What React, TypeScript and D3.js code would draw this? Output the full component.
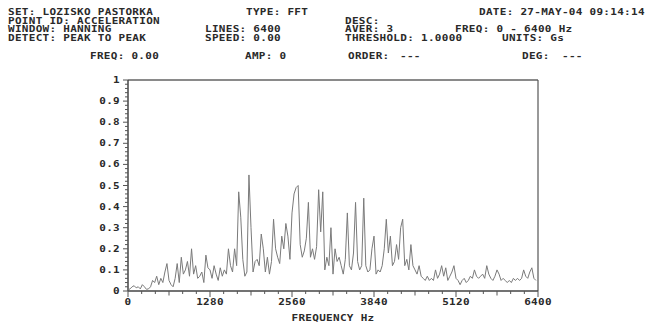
import React from 'react';
import * as d3 from 'd3';

const W = 650;
const H = 325;

// spectrum amplitude (Gs), one value every 32 Hz starting at 0 Hz
const FREQ_STEP = 32;
const amplitudes = [
  0.005, 0.01, 0.02, 0.025, 0.015, 0.02, 0.01, 0.03, 0.02, 0.008,
  0.01, 0.02, 0.05, 0.04, 0.07, 0.03, 0.06, 0.04, 0.09, 0.13,
  0.05, 0.03, 0.02, 0.06, 0.13, 0.04, 0.16, 0.08, 0.1, 0.14,
  0.07, 0.2, 0.08, 0.12, 0.06, 0.07, 0.09, 0.04, 0.17, 0.11,
  0.1, 0.06, 0.12, 0.08, 0.05, 0.11, 0.07, 0.1, 0.08, 0.2,
  0.12, 0.09, 0.2, 0.12, 0.47, 0.35, 0.15, 0.07, 0.09, 0.55,
  0.3, 0.09, 0.14, 0.15, 0.12, 0.27, 0.2, 0.09, 0.16, 0.08,
  0.14, 0.34, 0.2, 0.16, 0.13, 0.26, 0.2, 0.32, 0.26, 0.15,
  0.37, 0.46, 0.49, 0.5, 0.22, 0.16, 0.19, 0.25, 0.42, 0.16,
  0.2, 0.15, 0.21, 0.48, 0.28, 0.47, 0.1, 0.16, 0.12, 0.3,
  0.08, 0.2, 0.14, 0.16, 0.12, 0.08, 0.15, 0.37, 0.12, 0.1,
  0.18, 0.42, 0.14, 0.1, 0.12, 0.44, 0.12, 0.09, 0.1, 0.2,
  0.26, 0.08, 0.1, 0.09, 0.12, 0.2, 0.34, 0.18, 0.26, 0.12,
  0.14, 0.22, 0.15, 0.3, 0.34, 0.12, 0.15, 0.1, 0.22, 0.12,
  0.1, 0.08, 0.12, 0.07, 0.06, 0.05, 0.07, 0.05, 0.06, 0.05,
  0.1, 0.06, 0.08, 0.12, 0.07, 0.11, 0.05, 0.07, 0.09, 0.12,
  0.06, 0.05, 0.03, 0.05, 0.06, 0.04, 0.05, 0.07, 0.06, 0.1,
  0.07, 0.06, 0.07, 0.08, 0.06, 0.12, 0.08, 0.06, 0.05, 0.07,
  0.1, 0.08, 0.05, 0.06, 0.05, 0.04, 0.05, 0.04, 0.06, 0.05,
  0.06, 0.05, 0.06, 0.1, 0.07, 0.06, 0.09, 0.11, 0.06, 0.05,
];

const xTicks = [0, 1280, 2560, 3840, 5120, 6400];
const yTicks = [0, 0.1, 0.2, 0.3, 0.4, 0.5, 0.6, 0.7, 0.8, 0.9, 1];
const yTickLabels = ['0', '0.1', '0.2', '0.3', '0.4', '0.5', '0.6', '0.7', '0.8', '0.9', '1'];
const xTitle = 'FREQUENCY Hz';

// header block: [text, x] per row
const headerRows: [string, number][][] = [
  [['SET: LOZISKO PASTORKA', 8], ['TYPE: FFT', 246], ['DATE: 27-MAY-04 09:14:14', 479]],
  [['POINT ID: ACCELERATION', 8], ['DESC:', 345]],
  [['WINDOW: HANNING', 8], ['LINES: 6400', 205], ['AVER: 3', 345], ['FREQ: 0 - 6400 Hz', 455]],
  [['DETECT: PEAK TO PEAK', 8], ['SPEED: 0.00', 205], ['THRESHOLD: 1.0000', 345], ['UNITS: Gs', 502]],
];
const cursorRow: [string, number][] = [
  ['FREQ: 0.00', 90], ['AMP: 0', 245], ['ORDER:', 348], ['---', 400], ['DEG:', 522], ['---', 562],
];

const FONT = '"DejaVu Sans Mono", monospace';
const INK = '#2a2a2a';

// squat, wide glyphs like the instrument's bitmap font
function Label({ x, y, anchor = 'start', children }: { x: number; y: number; anchor?: string; children: React.ReactNode }) {
  return (
    <text
      transform={`translate(${x},${y}) scale(1,0.74)`}
      textAnchor={anchor}
      style={{ fontFamily: FONT, fontWeight: 700, fontSize: 11, fill: INK, letterSpacing: 0.3 }}
    >
      {children}
    </text>
  );
}

export default function App() {
  const x = d3.scaleLinear().domain([0, 6400]).range([128, 538]);
  const y = d3.scaleLinear().domain([0, 1]).range([291, 80]);

  const line = d3.line<number>()
    .x((_, i) => x(i * FREQ_STEP))
    .y(d => y(d));

  const yMinor = d3.range(0, 1.0001, 0.02);
  const xMinor = d3.range(0, 6400.01, 1280 / 6);

  return (
    <svg width={W} height={H} style={{ position: 'absolute', left: 0, top: 0, background: '#fff' }}>
      {headerRows.map((row, r) =>
        row.map(([t, px]) => (
          <Label key={`${r}-${t}`} x={px} y={15 + r * 8.5}>{t}</Label>
        ))
      )}
      {cursorRow.map(([t, px]) => (
        <Label key={`c-${t}-${px}`} x={px} y={59}>{t}</Label>
      ))}

      {/* frame */}
      <line x1={x(0)} x2={x(6400)} y1={y(1)} y2={y(1)} stroke="#8a8a8a" strokeWidth={2} />
      <line x1={x(6400)} x2={x(6400)} y1={y(1)} y2={y(0)} stroke="#555" strokeWidth={1.2} />

      {/* y axis */}
      <line x1={x(0)} x2={x(0)} y1={y(1)} y2={y(0)} stroke="#444" strokeWidth={1.5} />
      {yMinor.map((v, i) => (
        <line key={`ym${i}`} x1={x(0) - (i % 5 === 0 ? 5 : 3)} x2={x(0)} y1={y(v)} y2={y(v)} stroke="#555" strokeWidth={1} />
      ))}
      {yTicks.map((v, i) => (
        <Label key={`yt${i}`} x={120} y={y(v) + 3} anchor="end">{yTickLabels[i]}</Label>
      ))}

      {/* x axis */}
      <line x1={x(0)} x2={x(6400)} y1={y(0)} y2={y(0)} stroke="#444" strokeWidth={1.5} />
      {xMinor.map((v, i) => (
        <line key={`xm${i}`} x1={x(v)} x2={x(v)} y1={y(0)} y2={y(0) + (i % 6 === 0 ? 6 : i % 3 === 0 ? 4.5 : 3)} stroke="#555" strokeWidth={1} />
      ))}
      {xTicks.map(v => (
        <Label key={`xt${v}`} x={x(v)} y={305} anchor="middle">{v}</Label>
      ))}
      <Label x={(x(0) + x(6400)) / 2} y={321} anchor="middle">{xTitle}</Label>

      {/* spectrum */}
      <path d={line(amplitudes) ?? ''} fill="none" stroke="#7a7a7a" strokeWidth={1} />
    </svg>
  );
}
